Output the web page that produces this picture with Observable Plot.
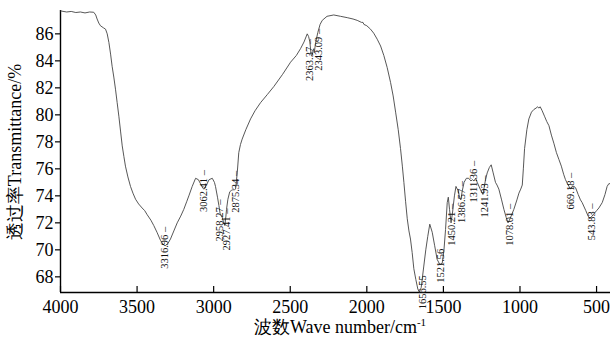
<!DOCTYPE html>
<html><head><meta charset="utf-8">
<script src="https://cdn.jsdelivr.net/npm/d3@7"></script>
<script src="https://cdn.jsdelivr.net/npm/@observablehq/plot@0.6"></script>
<style>
html,body{margin:0;padding:0;background:#fff;}
#chart{width:610px;height:341px;overflow:hidden;}
</style></head><body><div id="chart"></div>
<script>
// ---- data ----
const wavenumber = [4000,3960,3930,3900,3870,3840,3810,3783,3770,3761,3750,3739,3720,3706,3695,3684,3673,3663,3652,3641,3630,3619,3608,3597,3586,3576,3560,3543,3527,3510,3490,3467,3450,3434,3410,3391,3370,3347,3330,3317,3300,3282,3260,3238,3215,3195,3175,3162,3140,3118,3100,3086,3070,3062,3045,3030,3009,2995,2988,2975,2966,2958,2944,2935,2927,2920,2916,2907,2895,2885,2875,2865,2857,2846,2836,2825,2814,2790,2759,2730,2694,2650,2607,2550,2498,2460,2433,2410,2389,2380,2372,2363,2357,2350,2346,2343,2335,2320,2305,2291,2260,2216,2172,2128,2090,2063,2035,2025,2019,2000,1976,1955,1932,1910,1889,1867,1845,1828,1812,1795,1780,1768,1758,1747,1736,1725,1715,1704,1693,1680,1667,1657,1645,1628,1615,1602,1589,1573,1557,1541,1523,1508,1497,1486,1475,1468,1460,1450,1440,1428,1418,1405,1392,1386,1378,1365,1350,1335,1320,1311,1300,1290,1279,1260,1242,1225,1214,1200,1188,1175,1160,1150,1138,1120,1105,1090,1078,1065,1040,1020,1007,995,985,978,970,955,942,925,909,895,885,877,868,855,840,825,811,795,779,762,746,730,715,703,690,680,670,660,648,637,620,605,594,570,555,544,530,515,500,485,463,445,431,420,409];
const transmittance = [87.70,87.62,87.66,87.58,87.62,87.55,87.62,87.60,87.40,87.10,86.80,86.60,86.45,86.35,86.00,85.36,84.50,83.60,82.80,81.90,80.90,79.90,78.80,77.70,76.90,76.20,75.40,74.70,74.20,73.75,73.40,73.10,72.90,72.60,72.20,71.80,71.30,70.70,70.40,70.30,70.45,70.80,71.40,72.00,72.50,73.00,73.60,74.00,74.70,75.30,75.20,74.90,74.55,74.50,74.85,75.20,75.30,75.00,74.70,73.90,73.30,72.70,72.40,72.00,71.80,72.50,73.00,73.75,74.30,74.40,74.45,74.45,74.50,75.70,77.20,77.80,78.20,78.90,79.70,80.30,80.90,81.50,82.10,83.00,83.90,84.40,84.90,85.40,86.00,85.80,85.40,84.40,84.40,84.80,84.90,84.60,85.30,86.10,86.70,87.00,87.30,87.40,87.30,87.20,87.10,87.00,86.85,86.85,86.70,86.60,86.35,86.05,85.60,85.10,84.40,83.50,82.40,81.40,80.20,78.90,77.50,76.20,75.00,73.60,72.30,71.40,70.80,69.80,68.60,67.80,67.10,66.86,67.20,68.80,70.00,71.00,71.90,71.30,70.30,69.30,68.90,69.00,69.90,71.50,73.50,73.90,73.00,72.00,72.80,74.00,74.70,74.40,73.80,73.70,74.30,75.00,75.30,75.30,75.10,75.20,75.10,75.30,75.00,74.50,74.10,75.20,75.70,76.10,76.30,75.70,75.00,74.80,74.50,73.70,73.00,72.40,72.00,72.30,73.00,73.70,74.20,74.50,74.80,76.00,77.50,78.90,79.70,80.20,80.40,80.50,80.60,80.50,80.60,80.30,79.90,79.50,79.20,78.50,77.90,77.20,76.70,76.20,75.60,75.20,74.90,74.70,74.50,74.70,74.70,74.60,74.10,73.70,73.50,72.90,72.50,72.30,72.50,72.70,72.90,73.10,73.50,74.10,74.70,74.90,74.90];
const peakLabels = ["3316.96","3062.41","2958.27","2927.41","2875.34","2363.37","2343.09","1656.55","1521.56","1450.21","1386.57","1311.36","1241.93","1078.01","669.18","543.83"];
const peakTransmittance = [70.3,74.5,72.4,71.8,74.45,84.4,84.6,66.86,68.9,72.0,73.7,75.2,74.1,72.0,74.5,72.3];
const xTicks = [4000,3500,3000,2500,2000,1500,1000,500];
const yTicks = [68,70,72,74,76,78,80,82,84,86];
const xTitleMain = "波数Wave number/cm";
const xTitleSup = "-1";
const yTitle = "透过率Transmittance/%";

// ---- layout (pixel offsets of the peak annotations) ----
const labelLayout = [
  {dx:0, dy:2, up:false},{dx:0, dy:2, up:false},{dx:0, dy:3, up:false},{dx:2, dy:4, up:false},
  {dx:3, dy:2, up:false},{dx:-1.5, dy:4.5, up:false},{dx:4.5, dy:-3, up:false},{dx:3, dy:0, up:true},
  {dx:1, dy:1, up:true},{dx:1, dy:2, up:false},{dx:0.5, dy:2, up:false},{dx:1, dy:2, up:false},
  {dx:1.5, dy:2, up:false},{dx:2, dy:2, up:false},{dx:0, dy:2, up:false},{dx:2, dy:3, up:false}
];

const spectrum = wavenumber.map((w, i) => ({w, t: transmittance[i]}));
const peaks = peakLabels.map((s, i) => ({w: +s, t: peakTransmittance[i], s, ...labelLayout[i]}));

const xDomain = [4000, 409];
const yDomain = [66.84, 87.73];
const W = 610, H = 341, mL = 60, mR = 0, mT = 10, mB = 49;
const serif = "Liberation Serif";

const peakMarks = peaks.map(p => Plot.text([p], {
  x: "w", y: "t",
  text: d => d.up ? d.s : d.s + " \u2013",
  rotate: -90,
  textAnchor: d => d.up ? "start" : "end",
  dx: p.dx, dy: p.dy,
  fontSize: 10.5, fill: "#111", fontFamily: serif
}));

const chart = Plot.plot({
  width: W, height: H,
  marginLeft: mL, marginRight: mR, marginTop: mT, marginBottom: mB,
  style: "background:#fff;font-family:'Liberation Serif';color:#000;",
  x: {domain: xDomain, label: null},
  y: {domain: yDomain, label: null},
  marks: [
    Plot.axisY({ticks: yTicks, tickSize: 5, tickPadding: 2, fontSize: 18, fontFamily: serif, label: null, stroke: "#000", strokeWidth: 1.2}),
    Plot.axisX({ticks: xTicks, tickSize: 0, tickPadding: 8, fontSize: 18, fontFamily: serif, label: null, tickFormat: d3.format("d")}),
    Plot.ruleX(xTicks, {x: d => d, insetTop: H - mT - mB - 6, stroke: "#000", strokeWidth: 1.2}),
    Plot.ruleX([xDomain[0]], {stroke: "#000", strokeWidth: 1.4}),
    Plot.ruleY([yDomain[0]], {stroke: "#000", strokeWidth: 1.4}),
    Plot.line(spectrum, {x: "w", y: "t", stroke: "#444", strokeWidth: 0.9}),
    ...peakMarks
  ]
});

const svg = d3.select(chart);
const xt = svg.append("text")
  .attr("x", 340).attr("y", 333)
  .attr("text-anchor", "middle")
  .attr("font-size", 18).attr("fill", "#000")
  .attr("font-family", serif);
xt.append("tspan").text(xTitleMain);
xt.append("tspan").attr("font-size", 11).attr("dy", -7).text(xTitleSup);
svg.append("text")
  .attr("transform", "translate(21,152) rotate(-90)")
  .attr("text-anchor", "middle")
  .attr("font-size", 18).attr("fill", "#000")
  .attr("font-family", serif)
  .text(yTitle);

document.getElementById("chart").appendChild(chart);
</script></body></html>
